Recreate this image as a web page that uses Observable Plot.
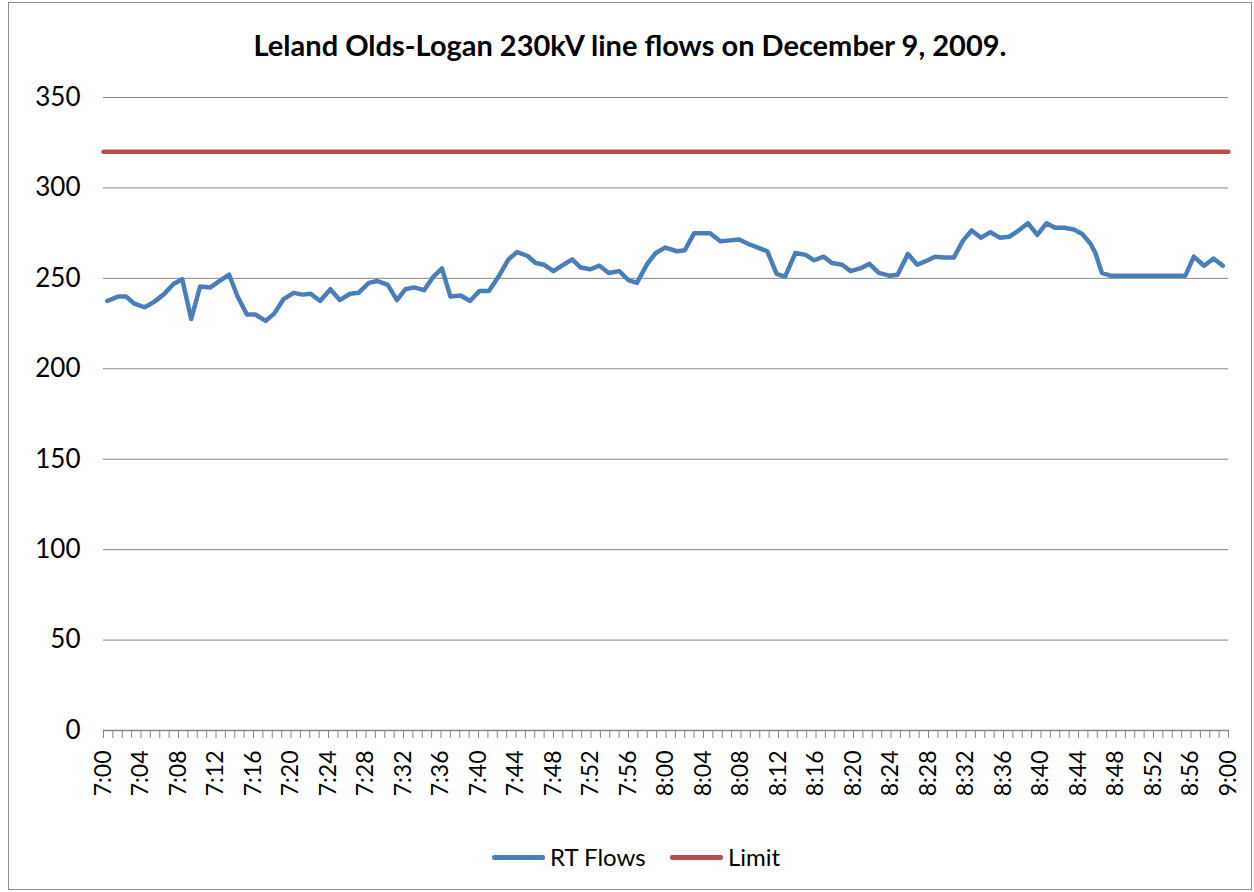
<!DOCTYPE html>
<html><head><meta charset="utf-8">
<script src="https://cdn.jsdelivr.net/npm/d3@7"></script>
<script src="https://cdn.jsdelivr.net/npm/@observablehq/plot@0.6"></script>
<style>
body{margin:0;background:#fff;width:1254px;height:892px;overflow:hidden;}
#frame{position:absolute;left:8px;top:2px;width:1244px;height:888px;border:1.5px solid #8c8c8c;box-sizing:border-box;}
#title{position:absolute;left:8px;top:27px;width:1244px;text-align:center;font-family:Lato,"Open Sans",sans-serif;font-weight:bold;font-size:29px;color:#000;}
#chart{position:absolute;left:0;top:80px;}
.leg{position:absolute;font-family:Lato,"Open Sans",sans-serif;font-size:24px;color:#000;top:842px;line-height:30px;}
.sw{position:absolute;top:855px;height:5px;width:53px;border-radius:2px;}
</style>
</head><body>
<div id="frame"></div>
<div id="title">Leland Olds-Logan 230kV line flows on December 9, 2009.</div>
<div id="chart"></div>
<div class="sw" style="left:492px;background:#4a7ebb"></div>
<div class="leg" style="left:550px">RT Flows</div>
<div class="sw" style="left:670px;background:#be4b48"></div>
<div class="leg" style="left:728px">Limit</div>
<script>
// minutes after 7:00 and RT flow values (MW)
const flowMinutes = [0.4,1.6,2.4,3.3,4.4,5.4,6.4,7.5,8.4,9.35,10.3,11.4,12.5,13.4,14.3,15.3,16.2,17.3,18.2,19.2,20.3,21.2,22.1,23.1,24.2,25.2,26.3,27.2,28.3,29.2,30.3,31.3,32.2,33.1,34.2,35.2,36.1,37,38.1,39.1,40.1,41.1,42.2,43.2,44.1,45.2,46.1,47,48,48.9,50,50.9,51.9,52.9,53.9,55,56,56.9,58,58.9,59.9,61.2,62,63,63.9,64.7,65.8,66.8,67.8,68.8,69.8,70.8,71.8,72.7,73.8,74.9,75.8,76.8,77.7,78.8,79.7,80.7,81.7,82.7,83.8,84.7,85.8,86.8,87.7,88.7,89.7,90.7,91.7,92.6,93.6,94.6,95.6,96.6,97.5,98.6,99.6,100.6,101.5,102.5,103.5,104.4,105.3,105.8,106.5,107.4,111.4,115.4,116.3,117.4,118.4,119.4];
const flowValues = [237.5,240,240,236,234,237,241,247,249.5,227.5,245.5,245,249,252,240,230,230,226.5,230.5,238.5,242,241,241.5,237.5,244,238,241.5,242,247.5,248.5,246.5,238,244,245,243.5,251,255.5,240,240.5,237.5,243,243,251.5,260.5,264.5,262.5,258.5,257.5,254,257,260.5,256,255,257,253,254,249,247.5,258,264,267,265,265.5,275,275,275,270.5,271,271.5,269,267,265,252.5,251,264,263,260,262,258.5,257.5,254,255.5,258,253,251.5,252,263.5,257.5,259.5,262,261.5,261.5,271,276.5,272.5,275.5,272.5,273,276,280.5,274,280.5,278,278,277,274.5,269,264,253,251.5,251.5,251.5,262,257,261,257];
const limitMinutes = [0,120];
const limitValues = [320,320];
const yTicks = [0,50,100,150,200,250,300,350];
const xTickLabels = ["7:00","7:04","7:08","7:12","7:16","7:20","7:24","7:28","7:32","7:36","7:40","7:44","7:48","7:52","7:56","8:00","8:04","8:08","8:12","8:16","8:20","8:24","8:28","8:32","8:36","8:40","8:44","8:48","8:52","8:56","9:00"];

const flows = flowMinutes.map((t,i)=>({t, v:flowValues[i]}));
const limit = limitMinutes.map((t,i)=>({t, v:limitValues[i]}));
const minuteTicks = d3.range(0,121);

const chart = Plot.plot({
  width:1254, height:760,
  marginLeft:103, marginRight:26, marginTop:17, marginBottom:110,
  style:{fontFamily:"Lato, 'Open Sans', sans-serif", fontSize:"23px", color:"#000", background:"transparent"},
  x:{domain:[0,120], axis:null},
  y:{domain:[0,350], axis:null},
  marks:[
    Plot.gridY(yTicks,{stroke:"#868686", strokeOpacity:1, strokeWidth:1}),
    Plot.axisY(yTicks,{tickSize:0, tickPadding:23, fontSize:26, fill:"#000", label:null}),
    Plot.ruleY([0],{stroke:"#868686", strokeWidth:1.5}),
    Plot.axisX(minuteTicks,{tickSize:8, stroke:"#868686", tickRotate:-90, tickPadding:12, fontSize:23, fill:"#000", label:null,
      tickFormat:(d)=> d % 4 === 0 ? xTickLabels[d/4] : ""}),
    Plot.line(flows,{x:"t", y:"v", stroke:"#4a7ebb", strokeWidth:4.5, strokeLinejoin:"round", strokeLinecap:"round"}),
    Plot.line(limit,{x:"t", y:"v", stroke:"#be4b48", strokeWidth:4.5})
  ]
});
document.getElementById("chart").appendChild(chart);
</script>
</body></html>
